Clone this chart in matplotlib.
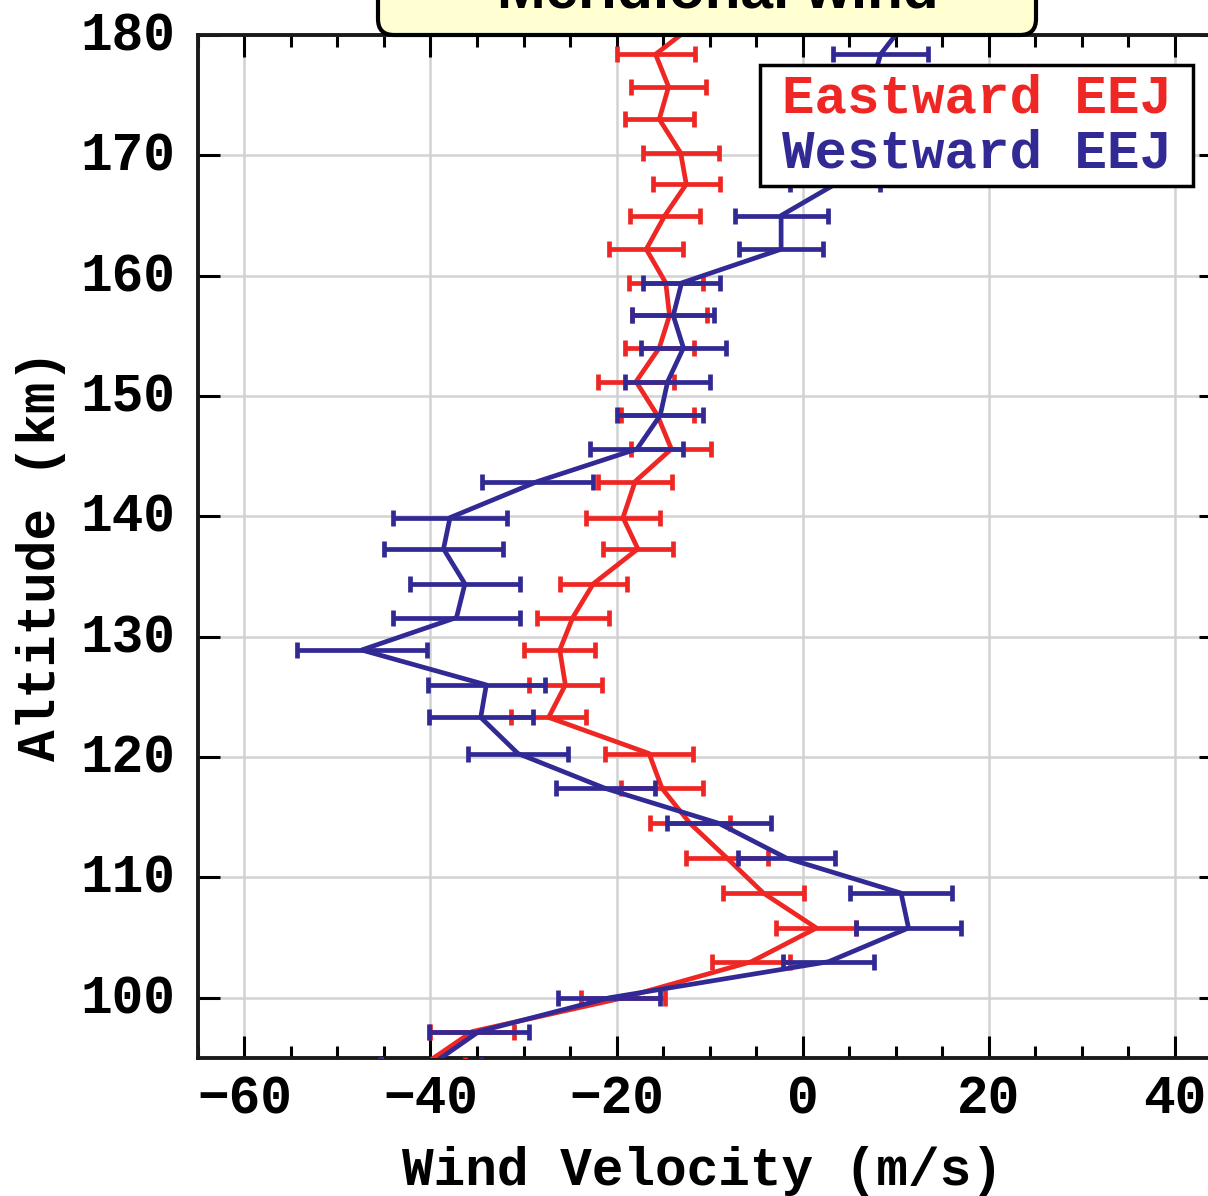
import matplotlib.pyplot as plt
import matplotlib.transforms as mtransforms
from matplotlib.patches import FancyBboxPatch, Rectangle
from matplotlib.ticker import MultipleLocator

plt.rcParams['font.family'] = ['Liberation Mono', 'DejaVu Sans Mono']
plt.rcParams['font.weight'] = 'bold'

# altitude levels (km), first and last lie just outside the plotted range
altitude = [181.2, 178.4, 175.7, 173.0, 170.2, 167.6, 165.0, 162.2, 159.4, 156.7,
            154.0, 151.2, 148.4, 145.6, 142.9, 139.9, 137.3, 134.4, 131.6, 128.9,
            126.0, 123.3, 120.3, 117.4, 114.5, 111.6, 108.7, 105.8, 103.0, 100.0,
            97.2, 94.4]

# meridional wind (m/s) and error for eastward EEJ days
east_wind = [-11.1, -15.8, -14.4, -15.4, -13.1, -12.5, -14.8, -16.8, -14.7, -14.3,
             -15.4, -17.9, -15.6, -14.1, -18.0, -19.3, -17.7, -22.5, -24.7, -26.1,
             -25.5, -27.3, -16.5, -15.1, -12.1, -8.1, -4.2, 1.5, -5.5, -19.3,
             -35.5, -40.8]
east_err = [4.0, 4.2, 4.0, 3.7, 4.1, 3.6, 3.8, 4.0, 4.0, 4.0,
            3.7, 4.1, 3.9, 4.3, 4.0, 4.0, 3.8, 3.6, 3.9, 3.8,
            3.9, 4.0, 4.7, 4.4, 4.3, 4.4, 4.4, 4.3, 4.2, 4.5,
            4.5, 4.5]

# meridional wind (m/s) and error for westward EEJ days
west_wind = [11.2, 8.4, 7.4, 6.2, 5.0, 3.5, -2.3, -2.3, -13.0, -13.9,
             -12.8, -14.5, -15.3, -17.8, -28.5, -37.9, -38.6, -36.3, -37.2, -47.4,
             -34.0, -34.6, -30.6, -21.2, -9.0, -1.7, 10.6, 11.4, 2.8, -20.8,
             -34.8, -40.0]
west_err = [5.0, 5.1, 5.0, 4.8, 4.9, 4.8, 5.0, 4.5, 4.1, 4.4,
            4.6, 4.6, 4.6, 5.0, 6.0, 6.1, 6.4, 5.9, 6.8, 7.0,
            6.3, 5.6, 5.4, 5.3, 5.6, 5.2, 5.5, 5.6, 4.9, 5.5,
            5.4, 5.4]

labels = ['Eastward EEJ', 'Westward EEJ']
colors = ['#EE2724', '#322A94']

fig = plt.figure(figsize=(12.08, 11.96), dpi=100)
ax = fig.add_axes([198 / 1208, 138 / 1196, 1023 / 1208, 1023 / 1196])

ax.errorbar(east_wind, altitude, xerr=east_err, color=colors[0], lw=3.4,
            elinewidth=3.4, capsize=6, capthick=3.4, zorder=3)
ax.errorbar(west_wind, altitude, xerr=west_err, color=colors[1], lw=3.4,
            elinewidth=3.4, capsize=6, capthick=3.4, zorder=4)

ax.set_xlim(-65, 45)
ax.set_ylim(95, 180)
ax.set_xticks(range(-60, 41, 20))
ax.xaxis.set_minor_locator(MultipleLocator(5))
ax.set_yticks(range(100, 181, 10))
ax.grid(True, which='major', color='#d2d2d2', lw=1.8)
ax.set_axisbelow(True)

ax.tick_params(which='major', direction='in', top=True, right=True,
               length=16, width=2.2, labelsize=38)
ax.tick_params(which='minor', direction='in', top=True, length=8.5, width=2.2)
ax.tick_params(axis='x', pad=12)
ax.tick_params(axis='y', pad=16)
for s in ax.spines.values():
    s.set_linewidth(2.8)
    s.set_color('#1a1a1a')

# nudge the altitude labels up a little so they sit level with their ticks
shift = mtransforms.ScaledTranslation(0, 4 / 100, fig.dpi_scale_trans)
for lbl in ax.get_yticklabels():
    lbl.set_transform(lbl.get_transform() + shift)

ax.set_xlabel('Wind Velocity (m/s)', fontsize=38, fontweight='bold')
ax.set_ylabel('Altitude (km)', fontsize=38, fontweight='bold')
ax.xaxis.set_label_coords(0.4932, -0.0860)
ax.yaxis.set_label_coords(-0.129, 0.4917)

# legend box with coloured text entries
ax.add_patch(Rectangle((0.5494, 0.8524), 0.4232, 0.1183, transform=ax.transAxes,
                       facecolor='white', edgecolor='black', lw=2.5, zorder=6))
for lab, col, yb in zip(labels, colors, [0.9238, 0.8700]):
    ax.text(0.7616, yb, lab, color=col, fontsize=39, fontweight='bold',
            ha='center', va='baseline', transform=ax.transAxes, zorder=7)

# title banner on top of the frame
top = fig.add_axes([0, 0, 1, 1], zorder=10)
top.set_xlim(0, 1208)
top.set_ylim(1196, 0)
top.axis('off')
top.add_patch(FancyBboxPatch((378, -60), 658, 95,
                             boxstyle='round,pad=0,rounding_size=16',
                             facecolor='#FFFFD2', edgecolor='black', lw=3))
top.text(718, 8, 'Meridional wind', fontsize=42, fontweight='bold',
         family='Liberation Sans', ha='center', va='baseline')

fig.savefig('out.png', dpi=100)
